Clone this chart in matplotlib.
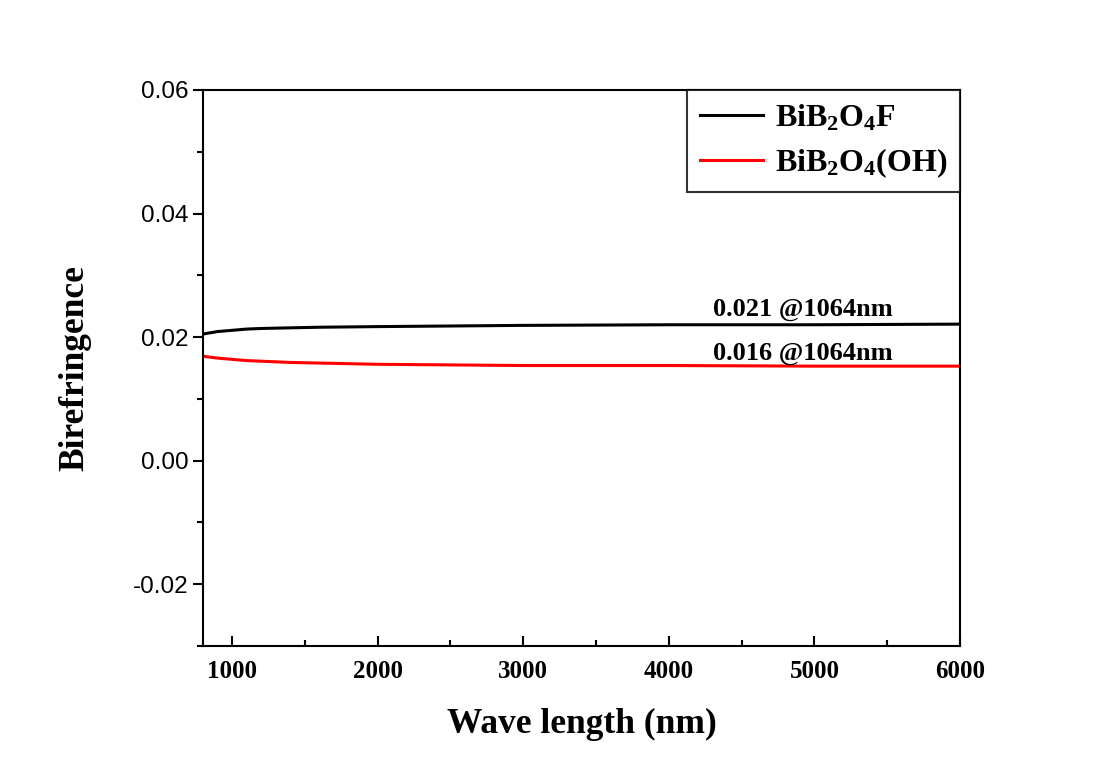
import matplotlib.pyplot as plt
from matplotlib.ticker import MultipleLocator

wavelength = [800, 900, 1000, 1100, 1200, 1400, 1600, 2000, 2500, 3000, 4000, 5000, 6000]
bib2o4f = [0.0205, 0.0209, 0.0211, 0.0213, 0.0214, 0.0215, 0.0216, 0.0217, 0.0218, 0.0219, 0.0220, 0.0220, 0.0221]
bib2o4oh = [0.0169, 0.0166, 0.0164, 0.0162, 0.0161, 0.0159, 0.0158, 0.0156, 0.0155, 0.0154, 0.0154, 0.0153, 0.0153]
series_names = ['BiB$_2$O$_4$F', 'BiB$_2$O$_4$(OH)']
notes = ['0.021 @1064nm', '0.016 @1064nm']

serif = 'Liberation Serif'
plt.rcParams['mathtext.fontset'] = 'custom'
plt.rcParams['mathtext.rm'] = 'Liberation Serif:bold'
plt.rcParams['mathtext.it'] = 'Liberation Serif:bold'
plt.rcParams['mathtext.bf'] = 'Liberation Serif:bold'

fig = plt.figure(figsize=(11.03, 7.71), dpi=100)
ax = fig.add_axes([203/1103, 1-646/771, (960-203)/1103, (646-90)/771])

ax.plot(wavelength, bib2o4f, color='black', lw=2.2, label=series_names[0])
ax.plot(wavelength, bib2o4oh, color='red', lw=2.2, label=series_names[1])

ax.set_xlim(800, 6000)
ax.set_ylim(-0.03, 0.06)
ax.xaxis.set_major_locator(MultipleLocator(1000))
ax.xaxis.set_minor_locator(MultipleLocator(500))
ax.yaxis.set_minor_locator(MultipleLocator(0.01))
ax.set_yticks([-0.02, 0.0, 0.02, 0.04, 0.06])
ax.set_yticklabels(['-0.02', '0.00', '0.02', '0.04', '0.06'])

ax.tick_params(axis='x', which='major', direction='in', length=7, width=1.5)
ax.tick_params(axis='x', which='minor', direction='in', length=4, width=1.5)
ax.tick_params(axis='y', which='major', direction='out', length=7, width=1.5)
ax.tick_params(axis='y', which='minor', direction='out', length=4, width=1.5)
for lab in ax.get_xticklabels():
    lab.set_fontfamily(serif)
    lab.set_fontweight('bold')
    lab.set_fontsize(18)
for lab in ax.get_yticklabels():
    lab.set_fontfamily('Liberation Sans')
    lab.set_fontsize(17.5)
ax.tick_params(axis='x', pad=10)

for s in ax.spines.values():
    s.set_linewidth(1.5)

ax.set_xlabel('Wave length (nm)', fontfamily=serif, fontweight='bold', fontsize=25.5, labelpad=18)
ax.set_ylabel('Birefringence', fontfamily=serif, fontweight='bold', fontsize=25.5, labelpad=30)

# annotation positions in data coordinates
ax.text(4920, 0.0244, notes[0], fontfamily=serif, fontweight='bold', fontsize=19, ha='center', va='center')
ax.text(4920, 0.0174, notes[1], fontfamily=serif, fontweight='bold', fontsize=19, ha='center', va='center')

leg = ax.legend(loc='upper right', prop={'family': serif, 'weight': 'bold', 'size': 23},
                frameon=True, fancybox=False, edgecolor='black', borderaxespad=0,
                handlelength=2.0, handletextpad=0.35, borderpad=0.4, labelspacing=0.4)
leg.get_frame().set_linewidth(1.5)

plt.savefig('out.png')
